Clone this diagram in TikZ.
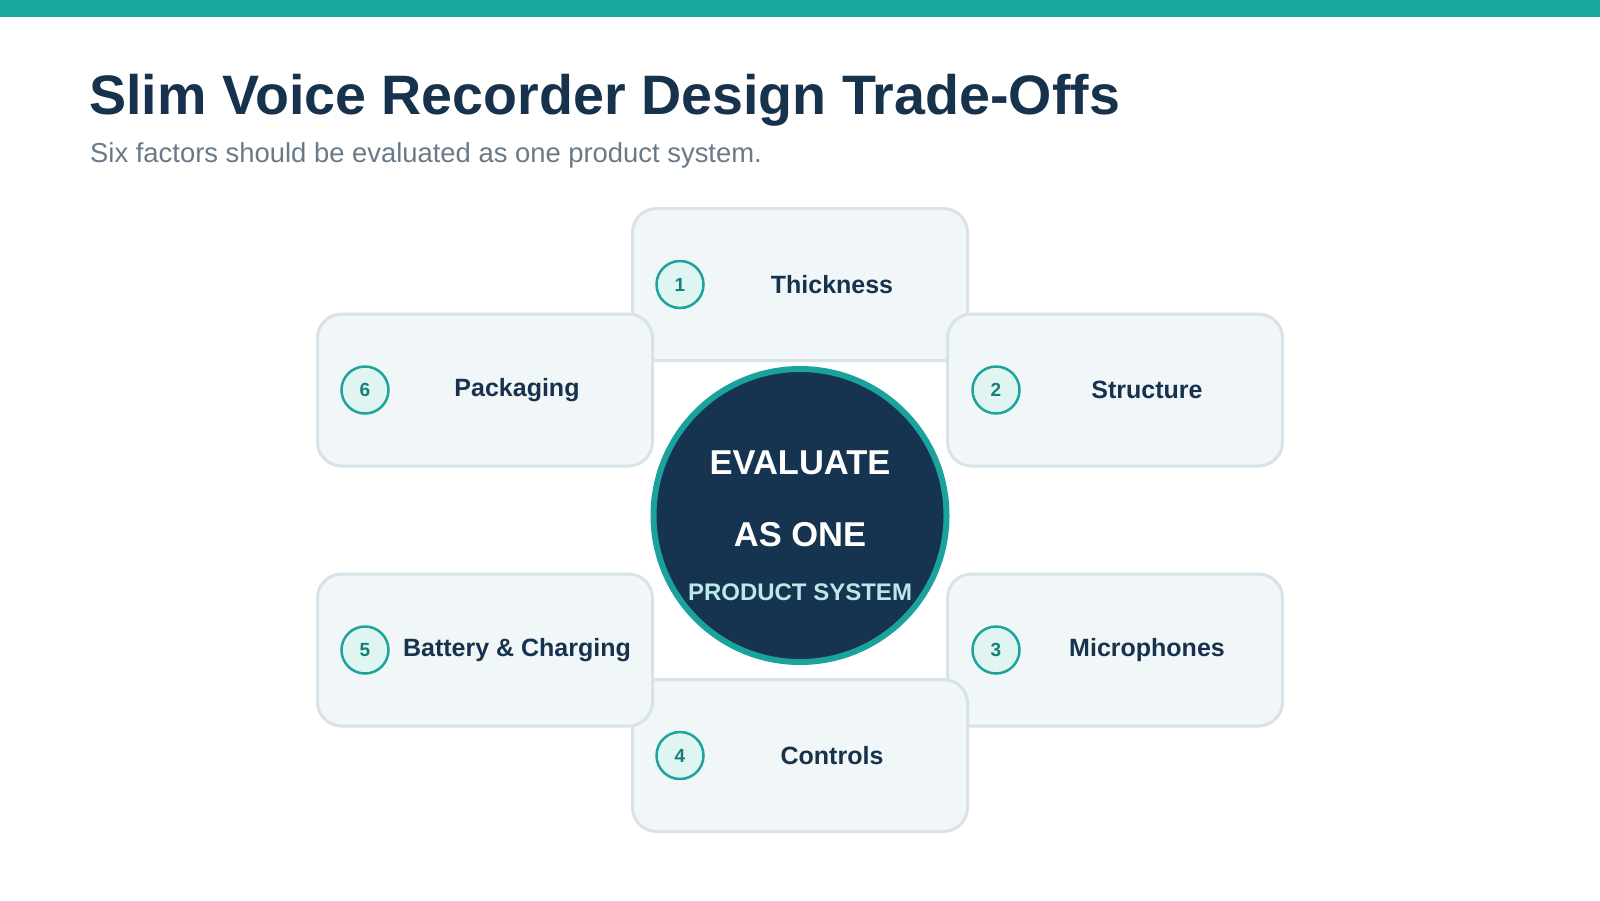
\documentclass[tikz,border=0pt]{standalone}
\usepackage{fontspec}
\setmainfont{Liberation Sans}
\definecolor{barteal}{HTML}{17A8A0}
\definecolor{navy}{HTML}{17324D}
\definecolor{subgray}{HTML}{687A89}
\definecolor{boxfill}{HTML}{F1F6F9}
\definecolor{boxline}{HTML}{D7E3E8}
\definecolor{numfill}{HTML}{E0F5F2}
\definecolor{numline}{HTML}{1BA39C}
\definecolor{numtext}{HTML}{147F7A}
\definecolor{hubfill}{HTML}{163350}
\definecolor{hubline}{HTML}{1AA39C}
\definecolor{hubsub}{HTML}{BCE8E8}
\pgfdeclarelayer{background}
\pgfsetlayers{background,main}
\tikzset{
  factorbox/.style={draw=boxline, line width=3pt, fill=boxfill, rounded corners=24pt,
    minimum width=335pt, minimum height=152pt, inner sep=0pt},
  numbadge/.style={circle, draw=numline, line width=2.5pt, fill=numfill, minimum size=47pt,
    inner sep=0pt, text=numtext, font=\fontsize{19}{22}\selectfont\bfseries},
  factorlabel/.style={text=navy, font=\fontsize{25}{29}\selectfont\bfseries, inner sep=0pt},
  hub/.style={circle, draw=hubline, line width=6pt, fill=hubfill, minimum size=293pt, inner sep=0pt},
  hubtext/.style={text=white, font=\fontsize{34.5}{39}\selectfont\bfseries, inner sep=0pt},
  hubsubtext/.style={text=hubsub, font=\fontsize{24}{28}\selectfont\bfseries, inner sep=0pt},
  conn/.style={draw=boxline, line width=6.5pt}
}
\begin{document}
\begin{tikzpicture}[x=1pt,y=-1pt]
\useasboundingbox (0,0) rectangle (1600,900);
\fill[white] (0,0) rectangle (1600,900);
\fill[barteal] (0,0) rectangle (1600,16.5);
\node[anchor=base west, inner sep=0pt, text=navy, font=\fontsize{55.6}{66}\selectfont\bfseries] (title) at (89,114) {Slim Voice Recorder Design Trade-Offs};
\node[anchor=base west, inner sep=0pt, text=subgray, font=\fontsize{27.4}{32}\selectfont] (subtitle) at (90,162) {Six factors should be evaluated as one product system.};
% boxes in drawing order
\node[factorbox] (b1) at (800,284.5) {};
\node[numbadge] (n1) at (680,284.5) {1};
\node[factorlabel] (l1) at (832,284.5) {Thickness};
\node[factorbox] (b2) at (1115,390) {};
\node[numbadge] (n2) at (996,390) {2};
\node[factorlabel] (l2) at (1147,390) {Structure};
\node[factorbox] (b3) at (1115,650) {};
\node[numbadge] (n3) at (996,650) {3};
\node[factorlabel] (l3) at (1147,650) {Microphones};
\node[factorbox] (b4) at (800,755.5) {};
\node[numbadge] (n4) at (680,755.5) {4};
\node[factorlabel] (l4) at (832,755.5) {Controls};
\node[factorbox] (b5) at (485,650) {};
\node[numbadge] (n5) at (365,650) {5};
\node[factorlabel] (l5) at (517,650) {Battery \& Charging};
\node[factorbox] (b6) at (485,390) {};
\node[numbadge] (n6) at (365,390) {6};
\node[factorlabel] (l6) at (517,390) {Packaging};
% hub
\node[hub] (hub) at (800,515.5) {};
\node[hubtext] (h1) at (800,463) {EVALUATE};
\node[hubtext] (h2) at (800,534.5) {AS ONE};
\node[hubsubtext] (h3) at (800,592.5) {PRODUCT SYSTEM};
\begin{pgfonlayer}{background}
\foreach \b in {b1,b2,b3,b4,b5,b6}{
  \draw[conn] (hub.center) -- (\b.center);
}
\end{pgfonlayer}
\end{tikzpicture}
\end{document}
